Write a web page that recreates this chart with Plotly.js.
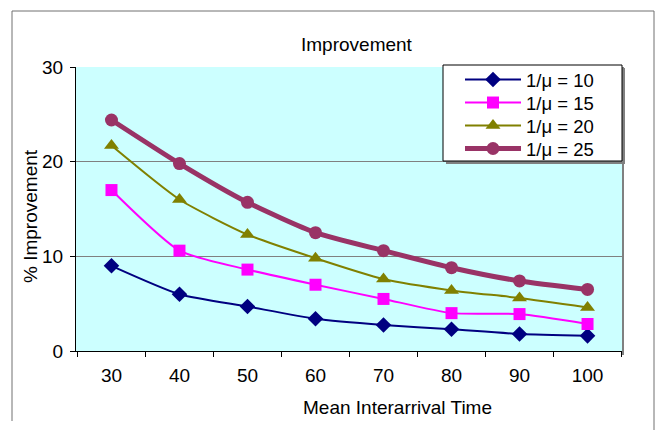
<!DOCTYPE html>
<html>
<head>
<meta charset="utf-8">
<script src="https://cdn.plot.ly/plotly-3.0.1.min.js"></script>
<style>html,body{margin:0;padding:0;background:#fff}#chart{width:658px;height:430px}</style>
</head>
<body>
<div id="chart"></div>
<script>
var categories = ["30", "40", "50", "60", "70", "80", "90", "100"];
var seriesNames = ["1/\u03bc = 10", "1/\u03bc = 15", "1/\u03bc = 20", "1/\u03bc = 25"];
var mu10 = [9.0, 6.0, 4.7, 3.4, 2.75, 2.3, 1.8, 1.6];
var mu15 = [17.0, 10.6, 8.6, 7.0, 5.5, 4.0, 3.9, 2.85];
var mu20 = [21.7, 16.0, 12.3, 9.8, 7.6, 6.4, 5.6, 4.6];
var mu25 = [24.4, 19.8, 15.7, 12.5, 10.6, 8.8, 7.4, 6.5];
var yTicks = [0, 10, 20, 30];

var W = 658, H = 430;
var L = 76, R = 623, T = 67, B = 351;
function px(x){ return (x - L) / (R - L); }
function py(y){ return (B - y) / (B - T); }

var font = "Liberation Sans, Arial, sans-serif";
var FS = 19;
function tr(name, y, color, width, symbol, size, leg){
  return {x: categories, y: y, name: name, type: "scatter", mode: "lines+markers", legend: leg,
    line: {color: color, width: width, shape: "spline", smoothing: 0.6},
    marker: {color: color, symbol: symbol, size: size, line: {width: 0}}};
}
var data = [
  tr(seriesNames[0], mu10, "#000080", 2, "diamond", 12, "legend"),
  tr(seriesNames[1], mu15, "#FF00FF", 2, "square", 12, "legend2"),
  tr(seriesNames[2], mu20, "#808000", 2, "triangle-up", 13, "legend3"),
  tr(seriesNames[3], mu25, "#993366", 5, "circle", 13, "legend4")
];
function leg(yc){
  return {x: px(460), y: py(yc), xanchor: "left", yanchor: "middle",
    bgcolor: "rgba(0,0,0,0)", borderwidth: 0,
    font: {family: font, size: 18.5, color: "#000"}, itemwidth: 56};
}
var layout = {
  width: W, height: H,
  margin: {l: L, r: W - R, t: T, b: H - B, pad: 0},
  paper_bgcolor: "#ffffff", plot_bgcolor: "#CCFFFF",
  font: {family: font, size: FS, color: "#000"},
  showlegend: true,
  legend: leg(80), legend2: leg(103), legend3: leg(126), legend4: leg(149),
  xaxis: {type: "category", tickson: "boundaries", ticks: "outside", ticklen: 5,
    tickcolor: "#000", showline: true, linecolor: "#000", linewidth: 1, ticklabelstandoff: 7,
    showgrid: false, zeroline: false, tickfont: {family: font, size: FS}, fixedrange: true},
  yaxis: {range: [0, 30], tickvals: yTicks, ticktext: yTicks.map(String), ticks: "outside", ticklen: 5,
    tickcolor: "#000", showline: true, linecolor: "#000", linewidth: 1, ticklabelstandoff: 3,
    showgrid: true, gridcolor: "#808080", gridwidth: 1, zeroline: false,
    tickfont: {family: font, size: FS}, fixedrange: true},
  annotations: [
    {text: "Improvement", xref: "paper", yref: "paper", x: px(357), y: py(44), showarrow: false,
      xanchor: "center", yanchor: "middle", font: {family: font, size: FS}},
    {text: "Mean Interarrival Time", xref: "paper", yref: "paper", x: px(397), y: py(407), showarrow: false,
      xanchor: "center", yanchor: "middle", font: {family: font, size: FS}},
    {text: "% Improvement", xref: "paper", yref: "paper", x: px(30), y: py(216), showarrow: false,
      textangle: -90, xanchor: "center", yanchor: "middle", font: {family: font, size: FS}}
  ],
  shapes: [
    {type: "line", xref: "paper", yref: "paper", x0: 1, x1: 1, y0: py(355), y1: 1, line: {color: "#808080", width: 2}},
    {type: "rect", xref: "paper", yref: "paper", x0: px(446), x1: px(625), y0: py(164), y1: py(68),
      fillcolor: "#808080", line: {width: 0}, layer: "above"},
    {type: "rect", xref: "paper", yref: "paper", x0: px(443), x1: px(622), y0: py(161), y1: py(65),
      fillcolor: "#ffffff", line: {color: "#000", width: 1}, layer: "above"},
    {type: "line", xref: "paper", yref: "paper", x0: px(12), x1: px(654), y0: py(11), y1: py(11), line: {color: "#707070", width: 1}},
    {type: "line", xref: "paper", yref: "paper", x0: px(12), x1: px(12), y0: py(11), y1: py(421), line: {color: "#707070", width: 1}},
    {type: "line", xref: "paper", yref: "paper", x0: px(654), x1: px(654), y0: py(11), y1: py(432), line: {color: "#707070", width: 1}}
  ]
};
Plotly.newPlot("chart", data, layout, {displayModeBar: false, staticPlot: true});
</script>
</body>
</html>
